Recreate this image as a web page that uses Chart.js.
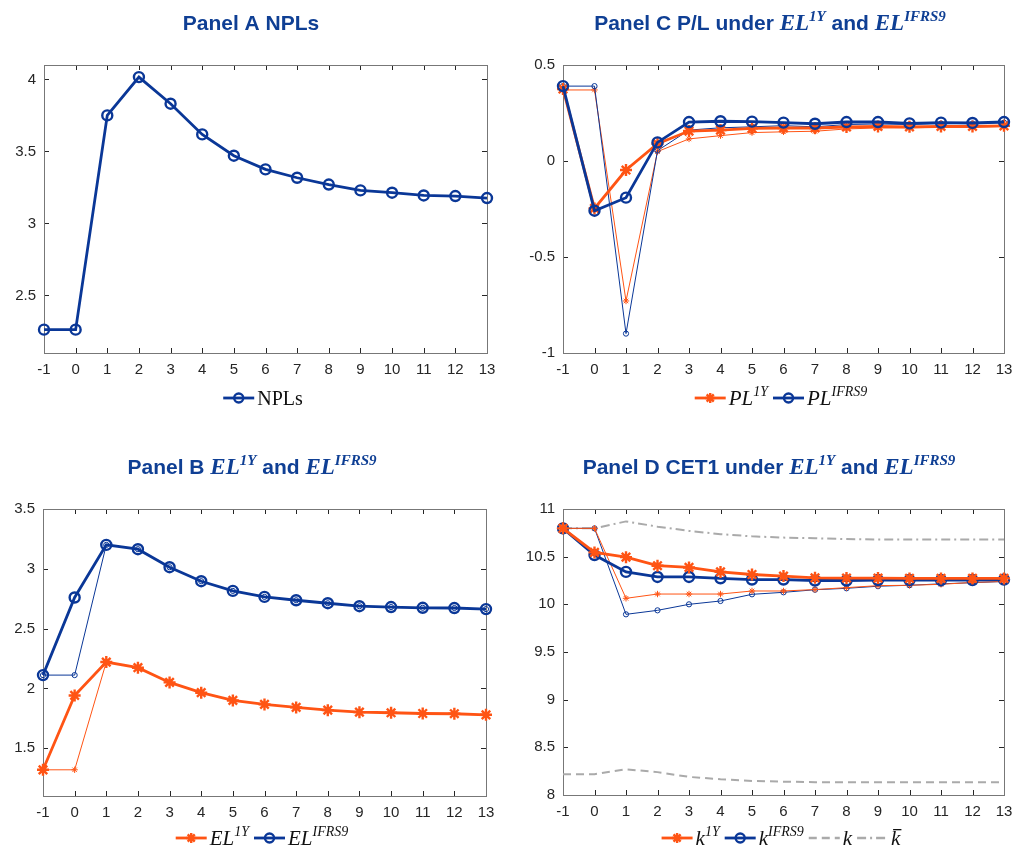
<!DOCTYPE html>
<html>
<head>
<meta charset="utf-8">
<script src="https://cdn.jsdelivr.net/npm/chart.js@4"></script>
<style>
  body { margin: 0; background: #fff; }
  .panel { position: absolute; width: 508px; height: 424px; }
</style>
</head>
<body>
<div class="panel" style="left:0;top:0"><canvas id="pA" width="508" height="424"></canvas></div>
<div class="panel" style="left:508px;top:0"><canvas id="pC" width="508" height="424"></canvas></div>
<div class="panel" style="left:0;top:424px"><canvas id="pB" width="508" height="424"></canvas></div>
<div class="panel" style="left:508px;top:424px"><canvas id="pD" width="508" height="424"></canvas></div>
<script>
const periods = [-1, 0, 1, 2, 3, 4, 5, 6, 7, 8, 9, 10, 11, 12, 13];

// Panel A
const npls = [2.262, 2.262, 3.75, 4.016, 3.831, 3.618, 3.47, 3.375, 3.317, 3.27, 3.229, 3.213, 3.194, 3.19, 3.176];

// Panel B
const el1Y = [1.319, 1.941, 2.22, 2.173, 2.05, 1.964, 1.899, 1.866, 1.841, 1.818, 1.801, 1.796, 1.79, 1.788, 1.779];
const el1YThin = [1.319, 1.319, 2.22, 2.173, 2.05, 1.964, 1.899, 1.866, 1.841, 1.818, 1.801, 1.796, 1.79, 1.788, 1.779];
const elIFRS9 = [2.111, 2.76, 3.2, 3.164, 3.013, 2.896, 2.815, 2.765, 2.737, 2.712, 2.687, 2.68, 2.674, 2.672, 2.663];
const elIFRS9Thin = [2.111, 2.111, 3.2, 3.164, 3.013, 2.896, 2.815, 2.765, 2.737, 2.712, 2.687, 2.68, 2.674, 2.672, 2.663];

// Panel C
const pl1Y = [0.375, -0.247, -0.047, 0.09, 0.156, 0.161, 0.17, 0.172, 0.172, 0.177, 0.18, 0.178, 0.18, 0.18, 0.183];
const pl1YThin = [0.37, 0.37, -0.729, 0.049, 0.115, 0.132, 0.148, 0.152, 0.155, 0.167, 0.172, 0.172, 0.175, 0.175, 0.18];
const plIFRS9 = [0.39, -0.259, -0.191, 0.097, 0.203, 0.207, 0.205, 0.2, 0.194, 0.203, 0.203, 0.196, 0.2, 0.198, 0.203];
const plIFRS9Thin = [0.39, 0.39, -0.899, 0.054, 0.161, 0.173, 0.178, 0.184, 0.178, 0.19, 0.193, 0.19, 0.195, 0.195, 0.2];

// Panel D
const k1Y = [10.797, 10.545, 10.495, 10.405, 10.387, 10.34, 10.313, 10.296, 10.278, 10.275, 10.275, 10.272, 10.272, 10.272, 10.272];
const k1YThin = [10.797, 10.797, 10.063, 10.108, 10.108, 10.108, 10.14, 10.14, 10.155, 10.175, 10.196, 10.2, 10.21, 10.23, 10.24];
const kIFRS9 = [10.797, 10.517, 10.34, 10.287, 10.287, 10.273, 10.26, 10.26, 10.25, 10.25, 10.255, 10.255, 10.255, 10.255, 10.26];
const kIFRS9Thin = [10.797, 10.797, 9.895, 9.937, 10.0, 10.035, 10.105, 10.126, 10.153, 10.168, 10.19, 10.2, 10.215, 10.227, 10.24];
const kLow = [8.218, 8.218, 8.27, 8.24, 8.19, 8.165, 8.148, 8.14, 8.135, 8.135, 8.135, 8.135, 8.135, 8.135, 8.135];
const kBar = [10.797, 10.797, 10.87, 10.815, 10.77, 10.736, 10.713, 10.7, 10.693, 10.685, 10.68, 10.68, 10.68, 10.68, 10.68];

const yTicksA = [2.5, 3, 3.5, 4];
const yTicksB = [1.5, 2, 2.5, 3, 3.5];
const yTicksC = [-1, -0.5, 0, 0.5];
const yTicksD = [8, 8.5, 9, 9.5, 10, 10.5, 11];

const BLUE = '#0a3797';
const ORANGE = '#ff5414';
const GRAY = '#aaaaaa';
const TITLE = '#0f3f94';
const AXIS = '#262626';

const styles = {
  thickBlue: { color: BLUE, width: 2.8, marker: 'circle', r: 5, mw: 2.4 },
  thinBlue: { color: BLUE, width: 1, marker: 'circle', r: 2.6, mw: 1 },
  thickOrange: { color: ORANGE, width: 2.8, marker: 'star', r: 6, mw: 2.4 },
  thinOrange: { color: ORANGE, width: 1, marker: 'star', r: 3.2, mw: 1 },
  dash: { color: GRAY, width: 2, dash: [8, 5] },
  dashDot: { color: GRAY, width: 2, dash: [9, 4, 2, 4] }
};

const toDataset = ([values, st]) => {
  const s = styles[st];
  return {
    data: periods.map((p, i) => ({ x: p, y: values[i] })),
    borderColor: s.color,
    borderWidth: s.width,
    borderDash: s.dash || [],
    pointStyle: s.marker || false,
    pointRadius: s.marker ? s.r : 0,
    pointBorderWidth: s.mw || 0,
    pointBorderColor: s.color,
    pointBackgroundColor: 'rgba(0,0,0,0)',
    pointHoverRadius: s.marker ? s.r : 0,
    tension: 0,
    clip: false
  };
};

const sans = 'Liberation Sans';
const serif = 'Liberation Serif';

function drawRuns(ctx, runs, cx, y) {
  let total = 0;
  runs.forEach(r => { ctx.font = r.f; r.w = ctx.measureText(r.t).width; total += r.w; });
  let x = cx - total / 2;
  runs.forEach(r => {
    ctx.font = r.f;
    ctx.fillText(r.t, x, y - (r.up || 0));
    x += r.w;
  });
}

const tSans = t => ({ t, f: 'bold 21px ' + sans });
const tEL = () => ({ t: 'EL', f: 'italic bold 23px ' + serif });
const tSup = t => ({ t, f: 'italic bold 15px ' + serif, up: 9 });

function legendSample(ctx, x, y, st) {
  const s = styles[st];
  ctx.save();
  ctx.strokeStyle = s.color;
  ctx.lineWidth = s.marker ? 2.8 : 2.4;
  ctx.setLineDash(s.dash || []);
  ctx.beginPath();
  ctx.moveTo(x, y);
  ctx.lineTo(x + 31, y);
  ctx.stroke();
  ctx.setLineDash([]);
  if (s.marker === 'circle') {
    ctx.lineWidth = 2.4;
    ctx.beginPath();
    ctx.arc(x + 15.5, y, 4.5, 0, Math.PI * 2);
    ctx.stroke();
  } else if (s.marker === 'star') {
    ctx.lineWidth = 2.4;
    ctx.beginPath();
    for (let a = 0; a < 4; a++) {
      const ang = a * Math.PI / 4;
      ctx.moveTo(x + 15.5 - 5 * Math.cos(ang), y - 5 * Math.sin(ang));
      ctx.lineTo(x + 15.5 + 5 * Math.cos(ang), y + 5 * Math.sin(ang));
    }
    ctx.stroke();
  }
  ctx.restore();
}

function framePlugin(cfg) {
  return {
    id: 'frame' + cfg.id,
    beforeDatasetsDraw(chart) {
      const { ctx, chartArea: a, scales: { x, y } } = chart;
      ctx.save();
      ctx.strokeStyle = AXIS;
      ctx.lineWidth = 1;
      ctx.beginPath();
      x.ticks.forEach((t, i) => {
        const px = Math.round(x.getPixelForTick(i)) + 0.5;
        ctx.moveTo(px, a.bottom); ctx.lineTo(px, a.bottom - 5);
        ctx.moveTo(px, a.top); ctx.lineTo(px, a.top + 5);
      });
      y.ticks.forEach((t, i) => {
        const py = Math.round(y.getPixelForTick(i)) + 0.5;
        ctx.moveTo(a.left, py); ctx.lineTo(a.left + 5, py);
        ctx.moveTo(a.right, py); ctx.lineTo(a.right - 5, py);
      });
      ctx.stroke();
      ctx.strokeStyle = '#777';
      ctx.strokeRect(Math.round(a.left) + 0.5, Math.round(a.top) + 0.5,
        Math.round(a.right - a.left), Math.round(a.bottom - a.top));
      ctx.restore();
    },
    afterDraw(chart) {
      const { ctx, chartArea: a } = chart;
      ctx.save();
      ctx.fillStyle = TITLE;
      ctx.textBaseline = 'alphabetic';
      drawRuns(ctx, cfg.title, cfg.titleX, cfg.titleY);
      // legend
      ctx.fillStyle = '#111';
      let total = 0;
      cfg.legend.forEach(it => {
        it.runs.forEach(r => { ctx.font = r.f; r.w = ctx.measureText(r.t).width; });
        it.w = 34 + it.runs.reduce((s, r) => s + r.w, 0) + 5;
        total += it.w;
      });
      let lx = (a.left + a.right) / 2 - total / 2;
      const ly = cfg.legendY;
      cfg.legend.forEach(it => {
        legendSample(ctx, lx, ly, it.style);
        let tx = lx + 34;
        it.runs.forEach(r => {
          ctx.font = r.f;
          ctx.fillText(r.t, tx, ly + 7 - (r.up || 0));
          if (r.bar) ctx.fillRect(tx + 2, ly - 9, r.w - 1, 1.3);
          tx += r.w;
        });
        lx += it.w;
      });
      ctx.restore();
    }
  };
}

const mi = t => ({ t, f: 'italic 21px ' + serif });
const ms = t => ({ t, f: 'italic 14px ' + serif, up: 9 });

function panel(cfg) {
  return new Chart(document.getElementById(cfg.id).getContext('2d'), {
    type: 'line',
    data: { datasets: cfg.sets.map(toDataset) },
    options: {
      responsive: false,
      animation: false,
      events: [],
      layout: { padding: { top: cfg.top, right: cfg.right, bottom: cfg.bottom, left: 0 } },
      plugins: { legend: { display: false }, title: { display: false }, tooltip: { enabled: false } },
      scales: {
        x: {
          type: 'linear', min: -1, max: 13,
          grid: { display: false, drawTicks: false },
          border: { display: false },
          afterBuildTicks: s => { s.ticks = periods.map(v => ({ value: v })); },
          afterFit: s => { s.height = 30; s.paddingLeft = 0; s.paddingRight = 0; },
          ticks: { padding: 8, color: AXIS, font: { family: sans, size: 15 }, autoSkip: false, maxRotation: 0, callback: v => String(v) }
        },
        y: {
          type: 'linear', min: cfg.ymin, max: cfg.ymax,
          grid: { display: false, drawTicks: false },
          border: { display: false },
          afterBuildTicks: s => { s.ticks = cfg.yTicks.map(v => ({ value: v })); },
          afterFit: s => { s.width = cfg.left; s.paddingTop = 0; s.paddingBottom = 0; },
          ticks: { padding: 8, color: AXIS, font: { family: sans, size: 15 }, callback: v => String(v) }
        }
      }
    },
    plugins: [framePlugin(cfg)]
  });
}

panel({
  id: 'pA', top: 65, right: 21, bottom: 41, left: 44,
  ymin: 2.1, ymax: 4.1, yTicks: yTicksA,
  sets: [[npls, 'thickBlue']],
  title: [tSans('Panel A NPLs')], titleX: 251, titleY: 30,
  legendY: 398,
  legend: [{ style: 'thickBlue', runs: [{ t: 'NPLs', f: '20px ' + serif }] }]
});

panel({
  id: 'pC', top: 65, right: 12, bottom: 41, left: 55,
  ymin: -1, ymax: 0.5, yTicks: yTicksC,
  sets: [[plIFRS9, 'thickBlue'], [pl1Y, 'thickOrange'], [plIFRS9Thin, 'thinBlue'], [pl1YThin, 'thinOrange']],
  title: [tSans('Panel C P/L under '), tEL(), tSup('1Y'), tSans(' and '), tEL(), tSup('IFRS9')],
  titleX: 262, titleY: 30,
  legendY: 398,
  legend: [
    { style: 'thickOrange', runs: [mi('PL'), ms('1Y')] },
    { style: 'thickBlue', runs: [mi('PL'), ms('IFRS9')] }
  ]
});

panel({
  id: 'pB', top: 85, right: 22, bottom: 22, left: 43,
  ymin: 1.1, ymax: 3.5, yTicks: yTicksB,
  sets: [[elIFRS9, 'thickBlue'], [el1Y, 'thickOrange'], [elIFRS9Thin, 'thinBlue'], [el1YThin, 'thinOrange']],
  title: [tSans('Panel B '), tEL(), tSup('1Y'), tSans(' and '), tEL(), tSup('IFRS9')],
  titleX: 252, titleY: 50,
  legendY: 414,
  legend: [
    { style: 'thickOrange', runs: [mi('EL'), ms('1Y')] },
    { style: 'thickBlue', runs: [mi('EL'), ms('IFRS9')] }
  ]
});

panel({
  id: 'pD', top: 85, right: 12, bottom: 23, left: 55,
  ymin: 8, ymax: 11, yTicks: yTicksD,
  sets: [[k1Y, 'thickOrange'], [kIFRS9, 'thickBlue'], [k1YThin, 'thinOrange'], [kIFRS9Thin, 'thinBlue'], [kLow, 'dash'], [kBar, 'dashDot']],
  title: [tSans('Panel D CET1 under '), tEL(), tSup('1Y'), tSans(' and '), tEL(), tSup('IFRS9')],
  titleX: 261, titleY: 50,
  legendY: 414,
  legend: [
    { style: 'thickOrange', runs: [mi('k'), ms('1Y')] },
    { style: 'thickBlue', runs: [mi('k'), ms('IFRS9')] },
    { style: 'dash', runs: [mi('k')] },
    { style: 'dashDot', runs: [Object.assign(mi('k'), { bar: true })] }
  ]
});
</script>
</body>
</html>
